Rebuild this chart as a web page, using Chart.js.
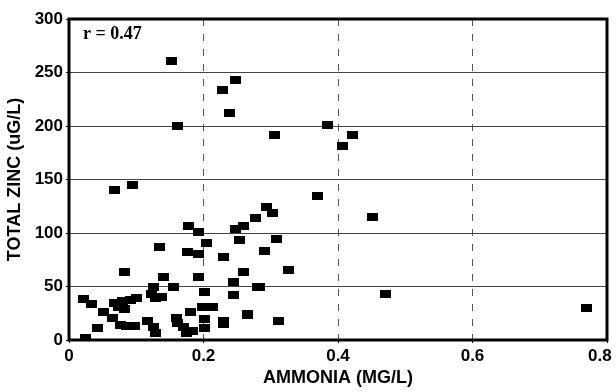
<!DOCTYPE html>
<html>
<head>
<meta charset="utf-8">
<script src="https://cdn.jsdelivr.net/npm/chart.js@4"></script>
<style>
  html, body { margin: 0; padding: 0; background: #fff; }
  #wrap { width: 616px; height: 392px; }
</style>
</head>
<body>
<div id="wrap"><canvas id="zincChart" width="616" height="392"></canvas></div>
<script>
// ammonia (mg/L) vs total zinc (ug/L), one entry per sample
const ammonia = [
  0.152, 0.228, 0.247, 0.239, 0.161,
  0.305, 0.384, 0.422, 0.406,
  0.369, 0.452,
  0.294, 0.303, 0.277, 0.260,
  0.309, 0.291, 0.326, 0.259, 0.284, 0.470, 0.265, 0.312,
  0.067, 0.094,
  0.177, 0.193, 0.247,
  0.135, 0.205, 0.254,
  0.176, 0.193, 0.230,
  0.082, 0.141, 0.192, 0.244,
  0.125, 0.155, 0.281,
  0.021, 0.033, 0.067, 0.080, 0.091, 0.100,
  0.074, 0.082,
  0.123, 0.128, 0.138,
  0.201, 0.244,
  0.051, 0.064, 0.180, 0.160, 0.199, 0.213, 0.266,
  0.077, 0.085, 0.097, 0.117, 0.125, 0.129,
  0.162, 0.170, 0.174, 0.184,
  0.201, 0.201, 0.229, 0.229,
  0.042, 0.025,
  0.769
];
const zinc = [
  261, 234, 243, 212, 200,
  192, 201, 192, 181,
  135, 115,
  124, 119, 114, 107,
  94, 83, 65, 64, 50, 43, 23, 18,
  140, 145,
  107, 101, 104,
  87, 91, 93,
  82, 80, 78,
  64, 59, 59, 54,
  50, 50, 50,
  38, 34, 35, 36, 37, 39,
  31, 29,
  43, 39, 40,
  45, 42,
  26, 21, 26, 21, 31, 31, 24,
  14, 13, 13, 18, 12, 7,
  16, 12, 7, 8,
  20, 11, 18, 15,
  11, 2,
  30
];
const xTicks = [0, 0.2, 0.4, 0.6, 0.8];
const yTicks = [0, 50, 100, 150, 200, 250, 300];
const corrLabel = 'r = 0.47';

// solid black block used as marker
const marker = document.createElement('canvas');
marker.width = 11;
marker.height = 8;
const mctx = marker.getContext('2d');
mctx.fillStyle = '#000';
mctx.fillRect(0, 0, 11, 8);

const points = ammonia.map((a, i) => ({x: a, y: zinc[i]}));

// heavy frame round the plot plus the r value
const framePlugin = {
  id: 'frame',
  beforeDatasetsDraw(chart) {
    const {ctx, chartArea: a} = chart;
    ctx.save();
    ctx.strokeStyle = '#000';
    ctx.lineWidth = 3;
    ctx.strokeRect(a.left, a.top, a.right - a.left, a.bottom - a.top);
    ctx.fillStyle = '#000';
    ctx.font = 'bold 18px "Liberation Serif"';
    ctx.textAlign = 'left';
    ctx.textBaseline = 'middle';
    ctx.fillText(corrLabel, a.left + 14, a.top + 15);
    ctx.restore();
  }
};

const tickFont = {family: '"Liberation Sans"', size: 17, weight: 'bold'};

new Chart('zincChart', {
  type: 'scatter',
  data: {
    datasets: [{
      data: points,
      pointStyle: marker,
      backgroundColor: '#000',
      borderColor: '#000'
    }]
  },
  options: {
    responsive: false,
    animation: false,
    layout: {padding: {top: 19, right: 9, left: 0, bottom: 0}},
    plugins: {legend: {display: false}, tooltip: {enabled: false}},
    scales: {
      x: {
        type: 'linear',
        min: 0,
        max: 0.8,
        afterBuildTicks(scale) { scale.ticks = xTicks.map(v => ({value: v})); },
        afterFit(scale) { scale.height = 52; scale.paddingLeft = 0; scale.paddingRight = 0; },
        grid: {color: '#555', lineWidth: 1, tickLength: 3, tickColor: '#000'},
        border: {display: false, dash: [7, 8]},
        ticks: {
          color: '#000',
          font: tickFont,
          padding: 3,
          maxRotation: 0,
          callback: v => v === 0.8 ? '0.8   ' : (v === 0 ? '0' : v.toFixed(1))
        },
        title: {
          display: true,
          text: 'AMMONIA (MG/L)',
          color: '#000',
          font: {family: '"Liberation Sans"', size: 18, weight: 'bold'},
          padding: {top: 0, bottom: 3}
        }
      },
      y: {
        min: 0,
        max: 300,
        afterBuildTicks(scale) { scale.ticks = yTicks.map(v => ({value: v})); },
        afterFit(scale) { scale.width = 69; },
        grid: {color: '#444', lineWidth: 1, tickLength: 3, tickColor: '#000'},
        border: {display: false},
        ticks: {color: '#000', font: tickFont, padding: 3},
        title: {
          display: true,
          text: 'TOTAL ZINC (uG/L)',
          color: '#000',
          font: {family: '"Liberation Sans"', size: 18, weight: 'bold'},
          padding: {top: 4, bottom: 0}
        }
      }
    }
  },
  plugins: [framePlugin]
});
</script>
</body>
</html>
